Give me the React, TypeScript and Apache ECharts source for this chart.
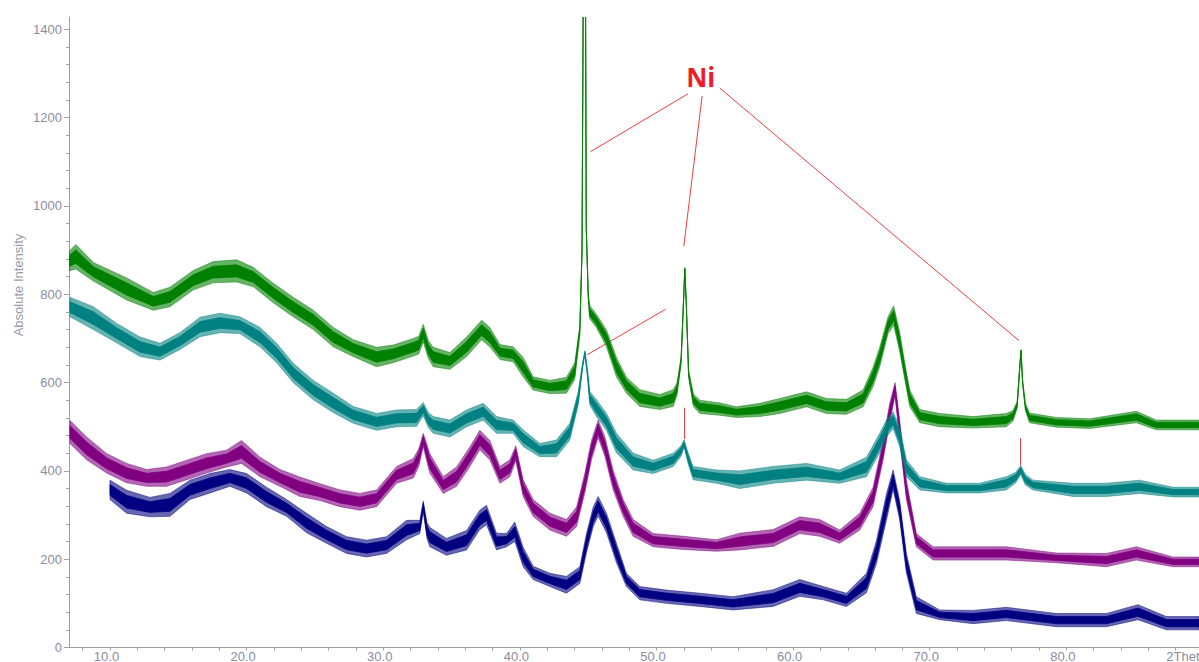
import React, { useEffect, useRef } from 'react';
import * as echarts from 'echarts';

// [2Theta, mid intensity, half noise band]
const greenPts: [number, number, number][] = [
  [7.0, 875, 22], [7.5, 885, 28], [8.78, 851, 21], [11.22, 812, 25], [13.17, 784, 20], [14.39, 794, 22],
  [16.1, 832, 22], [17.56, 850, 24], [19.27, 853, 25], [20.49, 839, 22], [21.95, 803, 22], [23.41, 771, 22],
  [24.88, 742, 22], [26.34, 703, 22], [27.8, 678, 19], [29.51, 658, 22], [30.73, 665, 20], [32.2, 680, 20],
  [32.6, 685, 20], [32.93, 712, 20], [33.3, 675, 20], [33.66, 658, 22], [34.88, 649, 19], [36.1, 681, 22],
  [37.2, 719, 22], [37.8, 703, 22], [38.54, 669, 17], [39.51, 664, 17], [40.24, 635, 22], [40.97, 598, 15],
  [42.2, 590, 15], [43.41, 594, 18], [44.02, 626, 19], [44.39, 719, 10], [44.55, 900, 5], [44.63, 1432, 3],
  [44.81, 1432, 3], [44.86, 950, 4], [45.0, 800, 6], [45.1, 760, 15], [45.6, 740, 15], [46.34, 700, 19],
  [47.07, 635, 22], [47.8, 594, 18], [48.78, 565, 19], [50.24, 556, 17], [51.22, 565, 19], [51.5, 585, 14],
  [51.8, 650, 8], [52.0, 800, 4], [52.07, 858, 3], [52.18, 780, 4], [52.35, 620, 8], [52.7, 560, 14],
  [53.17, 545, 15], [54.63, 540, 14], [55.85, 533, 12], [57.56, 538, 15], [59.02, 547, 17], [60.98, 562, 17],
  [62.44, 547, 17], [63.9, 545, 17], [65.12, 564, 19], [65.85, 613, 22], [66.34, 658, 22], [66.95, 730, 19],
  [67.36, 752, 22], [67.8, 692, 22], [68.17, 626, 19], [68.54, 564, 19], [69.27, 524, 15], [70.73, 515, 15],
  [73.17, 510, 13], [75.61, 515, 15], [76.1, 525, 12], [76.4, 550, 8], [76.6, 640, 4], [76.68, 672, 3],
  [76.8, 600, 5], [77.0, 545, 8], [77.3, 520, 11], [79.27, 510, 11], [81.71, 507, 11], [85.12, 522, 13],
  [86.58, 504, 11], [89.7, 504, 11],
];

const tealPts: [number, number, number][] = [
  [7.07, 771, 22], [8.78, 746, 26], [10.49, 712, 22], [12.2, 681, 22], [13.66, 670, 19], [15.12, 694, 19],
  [16.59, 726, 22], [18.05, 735, 22], [19.51, 730, 19], [20.98, 703, 22], [22.2, 667, 22], [23.41, 622, 22],
  [24.88, 583, 22], [26.34, 554, 22], [27.8, 527, 19], [29.51, 511, 19], [30.98, 519, 19], [32.44, 520, 19],
  [32.93, 540, 15], [33.3, 515, 17], [33.66, 504, 19], [34.88, 496, 19], [36.1, 519, 19], [37.32, 534, 19],
  [38.29, 504, 19], [39.51, 500, 15], [40.24, 474, 19], [41.46, 447, 15], [42.68, 451, 19], [43.66, 489, 19],
  [44.27, 564, 15], [44.6, 640, 6], [44.76, 668, 4], [44.95, 620, 8], [45.12, 564, 15], [45.61, 542, 19],
  [46.34, 511, 19], [47.07, 463, 22], [48.29, 421, 19], [49.76, 409, 15], [51.22, 425, 15], [51.8, 445, 12],
  [52.02, 462, 8], [52.3, 430, 12], [52.68, 395, 15], [54.39, 387, 15], [56.1, 380, 20], [58.54, 391, 19],
  [60.98, 398, 19], [63.41, 387, 15], [65.37, 409, 22], [66.34, 463, 22], [66.83, 496, 19], [67.32, 515, 19],
  [67.8, 477, 22], [68.29, 406, 19], [69.27, 372, 15], [71.22, 361, 11], [73.66, 361, 11], [75.61, 372, 15],
  [76.3, 385, 12], [76.66, 402, 10], [77.0, 380, 12], [77.56, 368, 11], [80.49, 357, 15], [82.93, 357, 15],
  [85.37, 364, 15], [87.8, 352, 11], [89.7, 352, 11],
];

const purplePts: [number, number, number][] = [
  [7.07, 488, 26], [8.29, 451, 26], [9.76, 417, 22], [11.22, 395, 22], [12.68, 384, 19], [14.15, 387, 22],
  [15.61, 402, 22], [17.07, 417, 22], [18.54, 428, 19], [19.63, 443, 26], [20.98, 409, 22], [22.44, 384, 19],
  [23.9, 364, 22], [25.37, 352, 19], [26.83, 338, 19], [28.29, 330, 19], [29.51, 338, 19], [30.98, 391, 19],
  [32.2, 406, 22], [32.6, 430, 20], [32.93, 470, 15], [33.2, 440, 20], [33.41, 417, 22], [34.39, 368, 19],
  [35.37, 387, 22], [36.34, 432, 22], [37.07, 470, 22], [37.8, 447, 22], [38.54, 391, 19], [39.27, 406, 19],
  [39.7, 440, 17], [40.24, 361, 19], [40.97, 316, 19], [42.2, 285, 19], [43.41, 271, 19], [44.15, 296, 22],
  [44.76, 373, 22], [45.24, 447, 22], [45.73, 495, 20], [46.22, 455, 22], [46.83, 379, 22], [47.56, 316, 19],
  [48.29, 271, 19], [49.76, 243, 15], [51.95, 237, 15], [54.39, 231, 13], [56.1, 240, 19], [58.54, 248, 19],
  [60.49, 277, 19], [61.95, 271, 19], [63.41, 251, 15], [64.88, 285, 19], [65.85, 341, 22], [66.59, 447, 22],
  [67.07, 531, 22], [67.46, 585, 15], [67.8, 492, 22], [68.29, 357, 22], [69.02, 243, 15], [70.24, 213, 15],
  [73.17, 213, 15], [75.61, 213, 15], [79.27, 203, 11], [82.93, 198, 15], [85.12, 213, 15], [87.8, 194, 11],
  [89.7, 194, 11],
];

const navyPts: [number, number, number][] = [
  [10.0, 357, 22], [11.22, 330, 26], [12.93, 318, 22], [14.39, 323, 26], [15.85, 357, 22], [17.32, 372, 22],
  [18.78, 384, 19], [20.0, 372, 22], [21.46, 341, 22], [22.93, 316, 19], [24.39, 282, 22], [25.85, 255, 19],
  [27.32, 232, 19], [28.78, 224, 19], [30.24, 232, 19], [31.71, 266, 22], [32.68, 273, 15], [32.93, 320, 12],
  [33.2, 265, 18], [33.41, 250, 22], [34.63, 228, 19], [36.1, 243, 22], [37.07, 289, 22], [37.56, 300, 22],
  [38.29, 240, 19], [39.02, 243, 15], [39.63, 262, 22], [40.24, 205, 22], [40.97, 169, 15], [42.2, 153, 15],
  [43.41, 142, 19], [44.39, 164, 19], [44.88, 237, 22], [45.37, 296, 22], [45.73, 320, 22], [46.34, 282, 22],
  [47.07, 214, 22], [47.8, 153, 15], [48.78, 123, 15], [50.73, 115, 15], [53.17, 108, 15], [55.61, 100, 15],
  [58.54, 112, 19], [60.49, 135, 19], [62.2, 123, 15], [63.9, 108, 15], [65.37, 146, 22], [66.1, 216, 26],
  [66.83, 318, 30], [67.32, 380, 22], [67.8, 311, 22], [68.29, 191, 22], [69.02, 96, 19], [70.73, 74, 11],
  [73.17, 69, 15], [75.61, 76, 15], [79.27, 62, 15], [82.93, 62, 15], [85.24, 80, 17], [87.32, 55, 15],
  [89.7, 55, 15],
];

const seriesNames = ['Navy', 'Purple', 'Teal', 'Green'];
const seriesColors = ['#000080', '#800080', '#008080', '#008000'];

const xLabelValues = [10, 20, 30, 40, 50, 60, 70, 80, 90];
const xTickValues = [8, 10, 12, 14, 16, 18, 20, 22, 24, 26, 28, 30, 32, 34, 36, 38, 40, 42, 44, 46, 48, 50, 52, 54, 56, 58, 60, 62, 64, 66, 68, 70, 72, 74, 76, 78, 80, 82, 84, 86, 88, 90];
const yLabelValues = [0, 200, 400, 600, 800, 1000, 1200, 1400];
const yMinorTickValues = [0, 40, 80, 120, 160, 200, 240, 280, 320, 360, 400, 440, 480, 520, 560, 600, 640, 680, 720, 760, 800, 840, 880, 920, 960, 1000, 1040, 1080, 1120, 1160, 1200, 1240, 1280, 1320, 1360, 1400];

// Annotation: [x1, y1, x2, y2] in data coordinates
const niLines: [number, number, number, number][] = [
  [52.31, 1254, 45.17, 1123],
  [53.34, 1249, 52.0, 909],
  [54.63, 1267, 76.53, 695],
  [50.66, 766, 44.92, 663],
  [52.02, 543, 52.02, 472],
  [76.64, 474, 76.64, 412],
];
const niLabel: [number, number] = [53.24, 1291];

const FONT = '"Liberation Sans", Arial, sans-serif';

function band(name: string, pts: [number, number, number][], color: string, frac: number, opacity: number, z: number) {
  const data = pts.map((p) => [p[0], p[1] - p[2] * frac, p[1] + p[2] * frac]);
  return {
    type: 'custom',
    name,
    coordinateSystem: 'cartesian2d',
    data,
    z,
    clip: true,
    silent: true,
    encode: { x: 0, y: [1, 2] },
    renderItem: (params: any, api: any) => {
      if (params.dataIndex !== 0) return null;
      const top = data.map((d) => api.coord([d[0], d[2]]));
      const bot = data.slice().reverse().map((d) => api.coord([d[0], d[1]]));
      return {
        type: 'polygon',
        shape: { points: top.concat(bot) },
        style: { fill: color, stroke: color, lineWidth: 0.8, opacity },
      };
    },
  };
}

export default function App() {
  const ref = useRef<HTMLDivElement>(null);
  useEffect(() => {
    if (!ref.current) return;
    const chart = echarts.init(ref.current, undefined, { renderer: 'svg' });
    const all = [navyPts, purplePts, tealPts, greenPts];
    const series: any[] = [];
    all.forEach((pts, i) => {
      series.push(band(seriesNames[i] + ' noise', pts, seriesColors[i], 1, 0.6, 2 + i * 2));
      series.push(band(seriesNames[i], pts, seriesColors[i], 0.55, 1, 3 + i * 2));
    });
    series.push({
      type: 'line',
      name: 'Ni',
      data: [],
      z: 20,
      silent: true,
      markLine: {
        silent: true,
        symbol: ['none', 'none'],
        label: { show: false },
        lineStyle: { color: '#f0282e', width: 1, type: 'solid', opacity: 0.9 },
        data: niLines.map((l) => [{ coord: [l[0], l[1]] }, { coord: [l[2], l[3]] }]),
      },
      markPoint: {
        silent: true,
        symbol: 'circle',
        symbolSize: 0,
        label: {
          show: true,
          position: 'inside',
          formatter: 'Ni',
          color: '#ee1c25',
          fontSize: 26,
          fontWeight: 'bold',
          fontFamily: '"Open Sans", "Liberation Sans", Arial, sans-serif',
        },
        data: [{ coord: niLabel }],
      },
    });

    chart.setOption({
      animation: false,
      backgroundColor: '#ffffff',
      grid: { left: 69, right: -4, top: 17, bottom: 14.5, containLabel: false, outerBoundsMode: 'none' },
      xAxis: {
        type: 'value',
        min: 7,
        max: 90,
        axisLine: { show: true, lineStyle: { color: '#a0a0a0', width: 1 } },
        axisTick: { show: true, length: 3, lineStyle: { color: '#a0a0a0' }, customValues: xTickValues },
        axisLabel: {
          show: true,
          customValues: xLabelValues,
          margin: 2,
          color: '#8c8ca0',
          fontSize: 13,
          lineHeight: 13,
          fontFamily: FONT,
          padding: [0, 7, 0, 0],
          hideOverlap: false,
          formatter: (v: number) => (v === 90 ? '{t|2Theta}' : v.toFixed(1)),
          rich: {
            t: { color: '#8c8ca0', fontSize: 13, lineHeight: 13, fontFamily: FONT, padding: [0, 26, 0, 0] },
          },
        },
        splitLine: { show: false },
      },
      yAxis: [
        {
          type: 'value',
          min: 0,
          max: 1428,
          axisLine: { show: true, lineStyle: { color: '#a0a0a0', width: 1 } },
          axisTick: { show: true, length: 3, lineStyle: { color: '#a0a0a0' }, customValues: yMinorTickValues },
          axisLabel: {
            show: true,
            customValues: yLabelValues,
            margin: 7,
            color: '#8c8ca0',
            fontSize: 13,
            fontFamily: FONT,
            formatter: (v: number) => String(v),
          },
          splitLine: { show: false },
        },
        {
          type: 'value',
          min: 0,
          max: 1428,
          position: 'left',
          axisLine: { show: false },
          axisTick: { show: true, length: 5, lineStyle: { color: '#a0a0a0' }, customValues: yLabelValues },
          axisLabel: { show: false },
          splitLine: { show: false },
        },
      ],
      graphic: [
        {
          type: 'text',
          x: 18,
          y: 285,
          rotation: Math.PI / 2,
          style: {
            text: 'Absolute Intensity',
            fill: '#9a9aaa',
            fontSize: 13,
            fontFamily: FONT,
            align: 'center',
            verticalAlign: 'middle',
          },
        },
      ],
      series,
    });
    return () => chart.dispose();
  }, []);
  return (
    <div
      ref={ref}
      style={{ position: 'absolute', left: 0, top: 0, width: 1199, height: 662, overflow: 'hidden' }}
    />
  );
}
